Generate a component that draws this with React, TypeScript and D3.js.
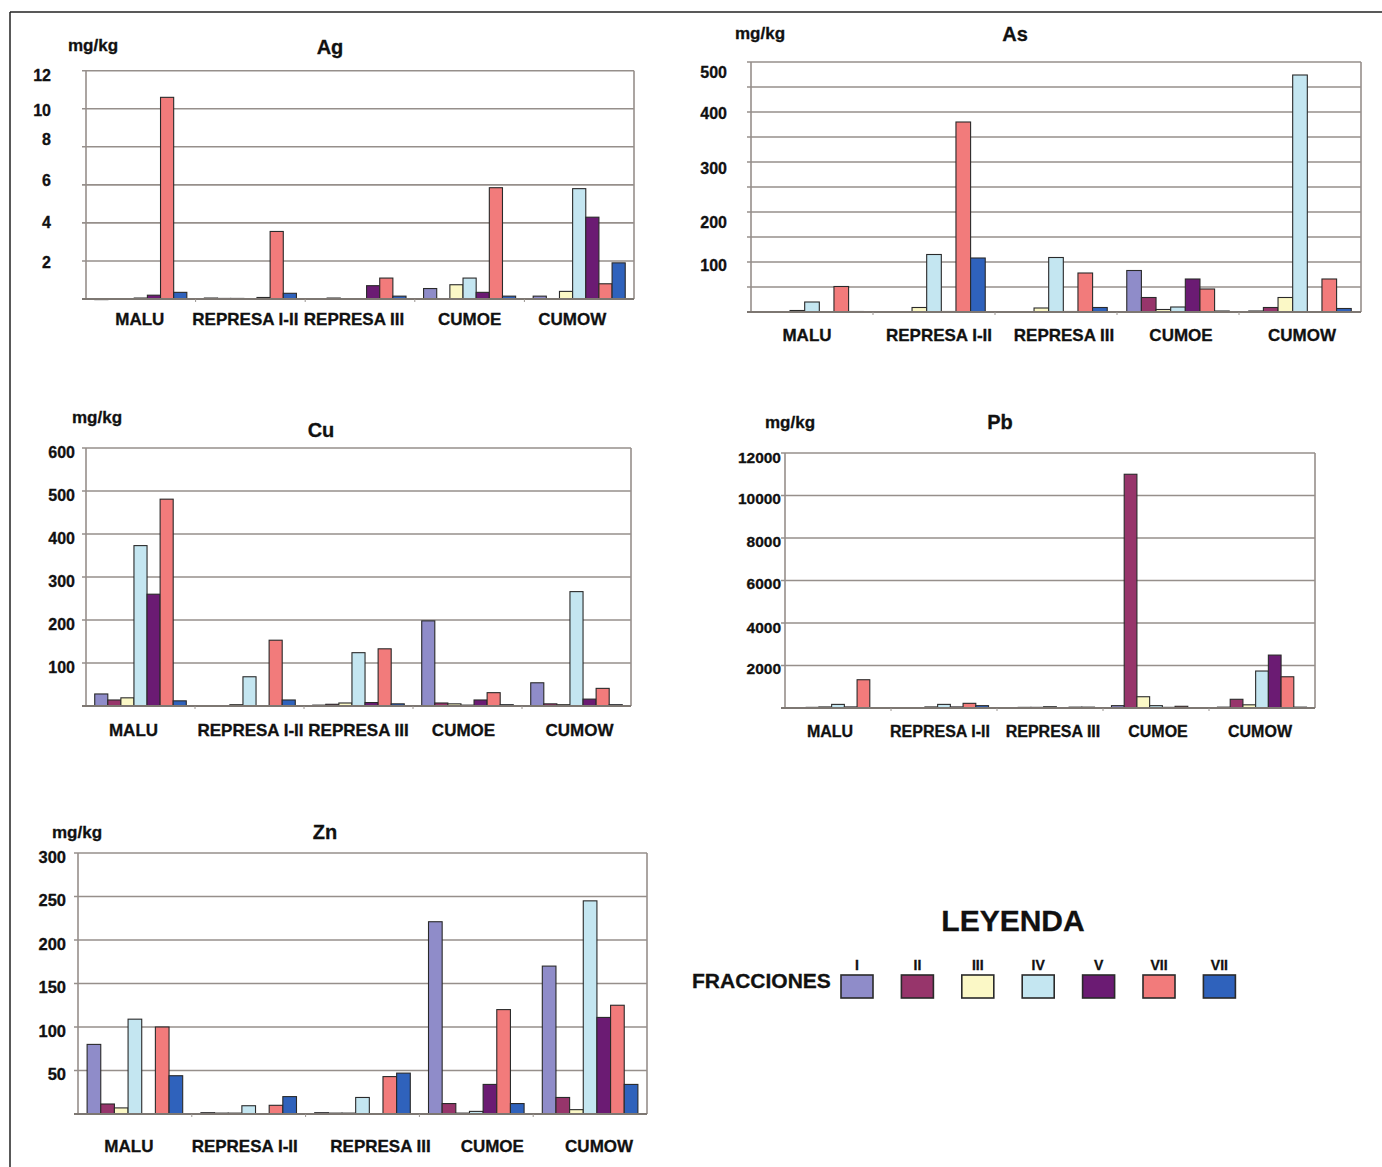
import React from "react";
import * as d3 from "d3";

// ---------- DATA ----------
const categories = ["MALU", "REPRESA I-II", "REPRESA III", "CUMOE", "CUMOW"];
const fractions = ["I", "II", "III", "IV", "V", "VII", "VII"];
const fractionColors = ["#8f8cc9", "#97356b", "#fbf8c6", "#c4e6f1", "#6b1b73", "#f27b7b", "#2f62bc"];

// values per category, one entry per fraction (I, II, III, IV, V, VII, VII)
const agValues = [
  [0.01, 0.02, 0.02, 0.05, 0.2, 10.6, 0.35],
  [0.05, 0.03, 0.03, 0.02, 0.08, 3.55, 0.3],
  [0, 0.05, 0, 0, 0.7, 1.1, 0.15],
  [0.55, 0, 0.75, 1.1, 0.35, 5.85, 0.15],
  [0.15, 0, 0.4, 5.8, 4.3, 0.8, 1.9],
];
const asValues = [
  [0, 0, 3, 20, 0, 51, 1],
  [0, 0, 9, 115, 1, 380, 108],
  [0, 0, 8, 109, 1, 78, 9],
  [83, 29, 5, 10, 66, 46, 2],
  [2, 9, 29, 474, 0, 66, 7],
];
const cuValues = [
  [28, 14, 19, 373, 260, 481, 12],
  [1, 1, 3, 68, 1, 153, 14],
  [2, 4, 7, 124, 8, 133, 5],
  [198, 7, 5, 2, 14, 31, 3],
  [54, 5, 3, 266, 16, 41, 3],
];
const pbValues = [
  [0, 30, 50, 170, 50, 1330, 20],
  [0, 20, 50, 170, 50, 220, 110],
  [0, 30, 30, 60, 0, 40, 40],
  [110, 11000, 530, 110, 30, 80, 0],
  [40, 410, 150, 1740, 2490, 1470, 40],
];
const znValues = [
  [80, 11.5, 7, 109, 0, 100, 44],
  [1.5, 1, 1, 9.5, 0, 10, 20],
  [1.5, 1, 1, 19, 0, 43, 47],
  [221, 12, 1, 3, 34, 120, 12],
  [170, 19, 5, 245, 111, 125, 34],
];

const agTicks = [2, 4, 6, 8, 10, 12];
const agGrid = [2, 4, 6, 8, 10, 12];
const asTicks = [100, 200, 300, 400, 500];
const asGrid = [50, 100, 150, 200, 250, 300, 350, 400, 450, 500];
const cuTicks = [100, 200, 300, 400, 500, 600];
const pbTicks = [2000, 4000, 6000, 8000, 10000, 12000];
const znTicks = [50, 100, 150, 200, 250, 300];

const unitLabel = "mg/kg";
const legendTitle = "LEYENDA";
const legendLabel = "FRACCIONES";

// ---------- LAYOUT ----------
const FONT = "'Liberation Sans', Arial, Helvetica, sans-serif";
const GRID = "#968f8b";
const INK = "#111";

type Panel = {
  title: string;
  values: number[][];
  ticks: number[];
  grid: number[];
  max: number;
  x0: number; x1: number; y0: number; y1: number;
  tickRight: number; tickDy: number[]; tickSize: number;
  unitX: number; unitY: number;
  titleX: number; titleY: number;
  catY: number; catSize: number;
  catDx: number[];
};

const panels: Panel[] = [
  {
    title: "Ag", values: agValues, ticks: agTicks, grid: agGrid, max: 12,
    x0: 86, x1: 634, y0: 70.7, y1: 299,
    tickRight: 51, tickDy: [1, -1, -5, -8, 1, 5], tickSize: 16,
    unitX: 68, unitY: 51, titleX: 330, titleY: 54,
    catY: 325, catSize: 17, catDx: [-1, -5, -6, 0, -7],
  },
  {
    title: "As", values: asValues, ticks: asTicks, grid: asGrid, max: 500,
    x0: 751, x1: 1361, y0: 62, y1: 312,
    tickRight: 727, tickDy: [3, 10, 6, 1, 10], tickSize: 16,
    unitX: 735, unitY: 39, titleX: 1015, titleY: 41,
    catY: 341, catSize: 17, catDx: [-5, 5, 8, 3, 2],
  },
  {
    title: "Cu", values: cuValues, ticks: cuTicks, grid: cuTicks, max: 600,
    x0: 86, x1: 631, y0: 448, y1: 706,
    tickRight: 75, tickDy: [4, 4, 4, 4, 4, 4], tickSize: 16,
    unitX: 72, unitY: 423, titleX: 321, titleY: 437,
    catY: 736, catSize: 17, catDx: [-7, 1, 0, -4, 3],
  },
  {
    title: "Pb", values: pbValues, ticks: pbTicks, grid: pbTicks, max: 12000,
    x0: 785, x1: 1315, y0: 453, y1: 708,
    tickRight: 781, tickDy: [3, 4, 3, 3, 3, 4], tickSize: 15.5,
    unitX: 765, unitY: 428, titleX: 1000, titleY: 429,
    catY: 737, catSize: 16, catDx: [-8, -4, 3, 2, -2],
  },
  {
    title: "Zn", values: znValues, ticks: znTicks, grid: znTicks, max: 300,
    x0: 78, x1: 647, y0: 853, y1: 1114,
    tickRight: 66, tickDy: [4, 4, 4, 4, 4, 4], tickSize: 16.5,
    unitX: 52, unitY: 838, titleX: 325, titleY: 839,
    catY: 1152, catSize: 17, catDx: [-6, -4, 18, 16, 9],
  },
];

const textStyle = {
  fontFamily: FONT,
  fontWeight: "bold" as const,
  fill: INK,
  stroke: INK,
  strokeWidth: 0.3,
};

function ChartPanel({ p }: { p: Panel }) {
  const x = d3.scaleBand<string>().domain(categories).range([p.x0, p.x1]);
  const xs = d3
    .scaleBand<number>()
    .domain(d3.range(fractions.length))
    .range([0, x.bandwidth()])
    .paddingInner(0)
    .paddingOuter(0.667);
  const y = d3.scaleLinear().domain([0, p.max]).range([p.y1, p.y0]);

  return (
    <g>
      <text x={p.unitX} y={p.unitY} fontSize={17} style={textStyle}>
        {unitLabel}
      </text>
      <text x={p.titleX} y={p.titleY} textAnchor="middle" fontSize={20} style={textStyle}>
        {p.title}
      </text>
      {/* gridlines */}
      {p.grid.map((g) => (
        <line key={"g" + g} x1={p.x0 - 4} x2={p.x1} y1={y(g)} y2={y(g)} stroke={GRID} strokeWidth={1.6} />
      ))}
      {/* left axis and right border */}
      <line x1={p.x0} x2={p.x0} y1={p.y0} y2={p.y1} stroke={GRID} strokeWidth={1.6} />
      <line x1={p.x1} x2={p.x1} y1={p.y0} y2={p.y1} stroke={GRID} strokeWidth={1.6} />
      {/* tick labels */}
      {p.ticks.map((t, i) => (
        <text
          key={"t" + t}
          x={p.tickRight}
          y={y(t) + p.tickDy[i]}
          dy="0.36em"
          textAnchor="end"
          fontSize={p.tickSize}
          style={textStyle}
        >
          {t}
        </text>
      ))}
      {/* bars */}
      {p.values.map((row, ci) =>
        row.map((v, fi) =>
          v > 0 ? (
            <rect
              key={ci + "-" + fi}
              x={(x(categories[ci]) as number) + (xs(fi) as number)}
              y={y(v)}
              width={xs.bandwidth()}
              height={Math.max(0.8, p.y1 - y(v))}
              fill={fractionColors[fi]}
              stroke="#2a2a2a"
              strokeWidth={1.1}
            />
          ) : null
        )
      )}
      {/* bottom axis */}
      <line x1={p.x0 - 4} x2={p.x1} y1={p.y1} y2={p.y1} stroke="#7d7772" strokeWidth={1.8} />
      {categories.slice(1).map((c) => (
        <line key={"bt" + c} x1={x(c) as number} x2={x(c) as number} y1={p.y1} y2={p.y1 + 3} stroke="#9a9490" strokeWidth={1} />
      ))}
      {/* category labels */}
      {categories.map((c, i) => (
        <text
          key={"c" + c}
          x={(x(c) as number) + x.bandwidth() / 2 + p.catDx[i]}
          y={p.catY}
          textAnchor="middle"
          fontSize={p.catSize}
          style={textStyle}
        >
          {c}
        </text>
      ))}
    </g>
  );
}

function Legend() {
  const lx = d3.scaleBand<number>().domain(d3.range(fractions.length)).range([841, 841 + 60.4 * fractions.length]);
  return (
    <g>
      <text x={1013} y={931} textAnchor="middle" fontSize={30} style={textStyle}>
        {legendTitle}
      </text>
      <text x={692} y={988} fontSize={21} style={textStyle}>
        {legendLabel}
      </text>
      {fractions.map((f, i) => (
        <g key={"l" + i}>
          <text x={(lx(i) as number) + 16} y={970} textAnchor="middle" fontSize={14} style={textStyle}>
            {f}
          </text>
          <rect x={lx(i) as number} y={975} width={32} height={23} fill={fractionColors[i]} stroke="#2a2a2a" strokeWidth={1.6} />
        </g>
      ))}
    </g>
  );
}

export default function App() {
  return (
    <svg
      width={1382}
      height={1167}
      viewBox="0 0 1382 1167"
      style={{ position: "absolute", left: 0, top: 0, background: "#fff" }}
    >
      <rect x={0} y={0} width={1382} height={1167} fill="#fff" />
      {/* frame */}
      <line x1={10} x2={1382} y1={12} y2={12} stroke="#222" strokeWidth={1.5} />
      <line x1={10} x2={10} y1={12} y2={1167} stroke="#222" strokeWidth={1.5} />
      {panels.map((p) => (
        <ChartPanel key={p.title} p={p} />
      ))}
      <Legend />
    </svg>
  );
}
